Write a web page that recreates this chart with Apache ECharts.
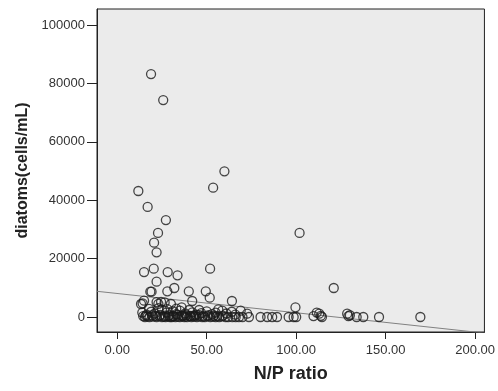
<!DOCTYPE html>
<html>
<head>
<meta charset="utf-8">
<script src="https://cdn.jsdelivr.net/npm/echarts@6/dist/echarts.min.js"></script>
<style>
  html, body { margin: 0; padding: 0; background: #fff; }
  #main { width: 498px; height: 391px; }
</style>
</head>
<body>
<div id="main"></div>
<script>
// N/P ratio (x) and diatom density (y)
const npRatio = [
  18.9, 25.7, 11.8, 17.0, 27.2, 22.8, 20.6, 22.0, 53.6, 59.9, 101.9, 121.0,
  51.9, 15.0, 20.4, 28.2, 33.7, 22.0, 18.5, 19.2, 28.0, 31.9, 40.0, 49.5,
  51.7, 41.9, 64.1,
  15.0, 14.2, 13.3, 22.0, 24.5, 26.5, 23.0, 30.0, 36.0, 40.2, 45.8, 58.7,
  56.5, 69.0, 72.6, 99.6, 112.9, 111.5, 128.5, 130.0, 113.8,
  14.0, 16.5, 19.0, 21.0, 25.0, 27.5, 31.0, 33.0, 35.0, 38.0, 42.0, 44.0,
  47.0, 50.0, 53.0, 55.0, 61.0, 66.0, 64.0,
  14.5, 15.5, 17.0, 18.0, 20.0, 22.0, 23.5, 25.0, 26.0, 27.0, 28.5, 29.5,
  30.5, 31.5, 32.5, 34.0, 35.0, 36.5, 37.5, 39.0, 40.5, 41.5, 43.0, 44.5,
  46.0, 47.5, 49.0, 50.5, 52.0, 53.5, 55.0, 57.0, 58.5, 60.6, 62.0, 64.3,
  66.2, 68.0, 70.0, 73.6, 80.1, 83.8, 86.6, 89.3, 95.8, 98.6, 100.0, 109.7,
  114.4, 129.2, 133.8, 137.5, 146.3, 169.4,
  16.0, 19.5, 21.5, 24.0, 26.8, 29.0, 31.0, 33.5, 36.0, 38.5, 41.0, 43.5,
  45.5, 48.0, 51.0, 54.0, 56.0, 59.0, 17.8, 23.0, 28.0, 33.0, 37.0, 42.5
];
const diatoms = [
  83200, 74300, 43150, 37700, 33200, 28800, 25450, 22150, 44300, 49900, 28800, 9930,
  16550, 15400, 16550, 15400, 14270, 12100, 8670, 8670, 8790, 9930, 8790, 8790,
  6610, 5480, 5480,
  5600, 4700, 4450, 5100, 5200, 5000, 4500, 4450, 3300, 2400, 2400, 2150,
  2600, 2150, 1130, 3300, 1130, 1500, 1130, 600, 400,
  1500, 800, 1800, 1200, 2500, 1500, 2000, 1000, 2200, 1200, 1600, 800,
  1300, 1900, 1000, 1500, 1200, 800, 1800,
  300, 0, 200, 0, 100, 0, 300, 0, 100, 0, 200, 0,
  0, 300, 0, 100, 0, 200, 0, 0, 300, 0, 100, 0,
  200, 0, 0, 300, 0, 100, 0, 0, 200, 0, 0, 0,
  0, 0, 0, 0, 0, 0, 0, 0, 0, 0, 0, 300,
  0, 300, 0, 0, 0, 0,
  500, 600, 400, 700, 500, 600, 400, 700, 500, 600, 400, 500,
  700, 400, 600, 500, 400, 500, 2800, 3000, 2700, 2900, 600, 500
];
// linear fit line
const fitIntercept = 8054;
const fitSlope = -66.05;
const fitX = [-11.3, 205.2];

const xTicks = [0, 50, 100, 150, 200];
const yTicks = [0, 20000, 40000, 60000, 80000, 100000];

const points = npRatio.map((x, i) => [x, diatoms[i]]);
const fitLine = fitX.map((x) => [x, fitIntercept + fitSlope * x]);

const chart = echarts.init(document.getElementById("main"));
const labelColor = "#333";
const fontFamily = "Liberation Sans, Arial";
chart.setOption({
  animation: false,
  backgroundColor: "#fff",
  grid: {
    left: 97,
    right: 11,
    top: 9,
    bottom: 59,
    show: true,
    backgroundColor: "#ebebeb",
    borderColor: "#222",
    borderWidth: 1,
  },
  xAxis: {
    type: "value",
    min: -11.3,
    max: 205.2,
    name: "N/P ratio",
    nameLocation: "middle",
    nameGap: 33,
    nameTextStyle: {
      fontFamily: fontFamily,
      fontWeight: "bold",
      fontSize: 18,
      color: "#222",
    },
    axisLine: { show: true, onZero: false, lineStyle: { color: "#222" } },
    axisTick: {
      show: true,
      inside: false,
      length: 7,
      customValues: xTicks,
      lineStyle: { color: "#222" },
    },
    axisLabel: {
      customValues: xTicks,
      margin: 12,
      fontFamily: fontFamily,
      fontSize: 13,
      color: labelColor,
      formatter: (v) => v.toFixed(2),
    },
    splitLine: { show: false },
  },
  yAxis: {
    type: "value",
    min: -5137,
    max: 105480,
    name: "diatoms(cells/mL)",
    nameLocation: "middle",
    nameGap: 58,
    nameTextStyle: {
      fontFamily: fontFamily,
      fontWeight: "bold",
      fontSize: 16,
      color: "#222",
    },
    axisLine: { show: true, onZero: false, lineStyle: { color: "#222" } },
    axisTick: {
      show: true,
      inside: false,
      length: 10,
      customValues: yTicks,
      lineStyle: { color: "#222" },
    },
    axisLabel: {
      customValues: yTicks,
      margin: 12,
      fontFamily: fontFamily,
      fontSize: 13,
      color: labelColor,
      formatter: (v) => String(v),
    },
    splitLine: { show: false },
  },
  series: [
    {
      type: "line",
      data: fitLine,
      symbol: "none",
      clip: true,
      lineStyle: { color: "#808080", width: 1 },
      z: 1,
    },
    {
      type: "scatter",
      data: points,
      symbol: "circle",
      symbolSize: 9,
      itemStyle: {
        color: "rgba(0,0,0,0)",
        borderColor: "#1a1a1a",
        borderWidth: 1.3,
      },
      z: 2,
    },
  ],
});
</script>
</body>
</html>
